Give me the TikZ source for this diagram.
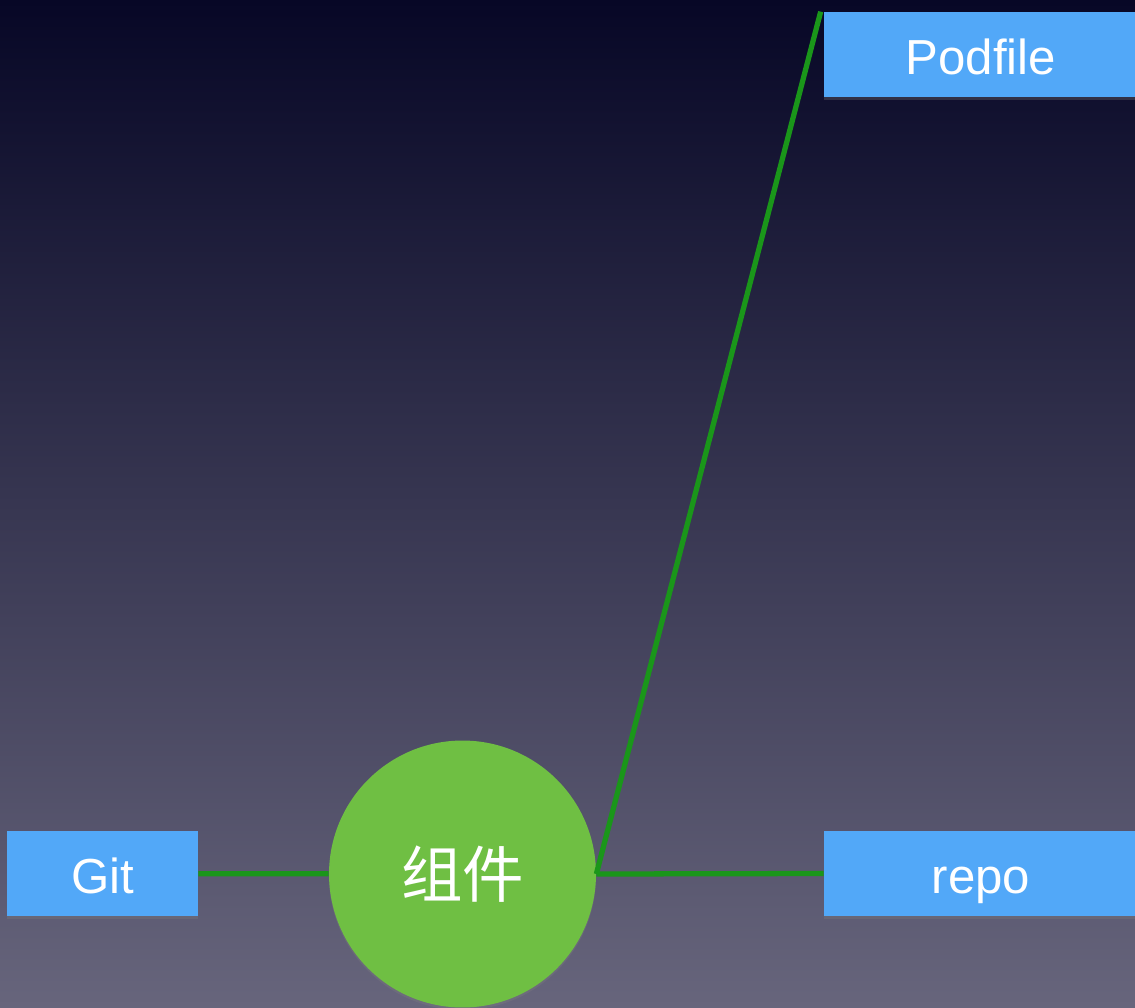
\documentclass[tikz,border=0pt]{standalone}
\usepackage{fontspec}
\setmainfont{Liberation Sans}
\newfontfamily\cjk{Noto Sans CJK SC}
\usetikzlibrary{shadows}
\definecolor{boxblue}{HTML}{52A8F8}
\definecolor{compgreen}{HTML}{6FBF43}
\definecolor{linkgreen}{HTML}{1A961A}
\definecolor{bgtop}{HTML}{070726}
\definecolor{bgmid}{HTML}{3A3856}
\definecolor{bgbot}{HTML}{67657C}
\begin{document}
\begin{tikzpicture}[x=0.02cm, y=-0.02cm]
      \tikzstyle{box}=[fill=boxblue, text=white, minimum height=1.7cm,
                       text height=23pt, text depth=0pt,
                       font=\fontsize{28}{30}\selectfont,
                       drop shadow={opacity=0.3, shadow xshift=0cm, shadow yshift=-0.06cm}]
      \tikzstyle{comp}=[circle, fill=compgreen, text=white, minimum size=5.34cm,
                        font=\cjk\fontsize{35}{38}\selectfont,
                        drop shadow={opacity=0.3, shadow xshift=0cm, shadow yshift=-0.05cm}]
      \tikzstyle{link}=[linkgreen, line width=3pt]
      \useasboundingbox (0, 0) rectangle (1135, 1007);
      \clip (0, 0) rectangle (1135, 1007);
      \shade[top color=bgtop, middle color=bgmid, bottom color=bgbot]
        (0, 0) rectangle (1135, 1007);
      \node[box, minimum width=6.28cm] (pod)  at (981, 54.5)  {Podfile};
      \node[box, minimum width=3.82cm] (git)  at (102.5, 873.5) {Git};
      \node[box, minimum width=6.28cm] (repo) at (981, 873.5) {repo};
      \node[comp] (unit) at (462.5, 874) {组件};
      \draw[link] (git) -- (unit);
      \draw[link] (unit.east) -- (repo.west);
      \draw[link] (unit.east) -- ([xshift=-0.06cm]pod.north west);
    \end{tikzpicture}
\end{document}
